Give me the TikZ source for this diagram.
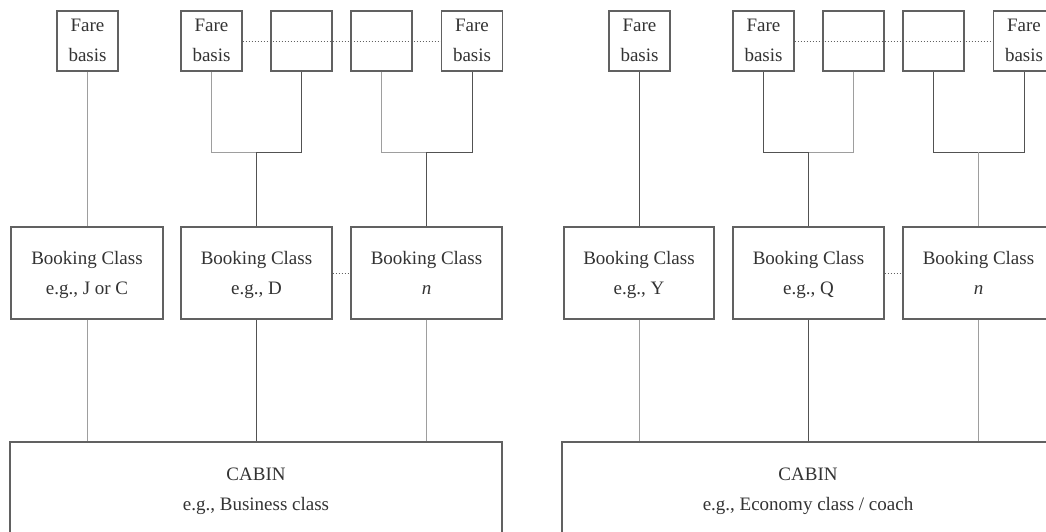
\documentclass[tikz,border=0pt]{standalone}
\usepackage{fontspec}
\setmainfont{Liberation Serif}
\tikzset{
  box/.style={draw=black!62, line width=1.1pt, inner sep=0pt, align=center, text=black!80, font=\fontsize{19}{30}\selectfont},
  farebox/.style={box, minimum width=61pt, minimum height=60pt},
  bookbox/.style={box, minimum width=151pt, minimum height=92pt},
  cabinbox/.style={box, minimum width=492pt, minimum height=94pt},
  dk/.style={draw=black!68, line width=1pt},
  lt/.style={draw=black!38, line width=1pt},
  dots/.style={draw=black!62, line width=0.85pt, dash pattern=on 1.6pt off 1.4pt},
}
\begin{document}
\begin{tikzpicture}[x=1pt,y=-1pt]
\useasboundingbox (0,0) rectangle (1046,532);
\clip (0,0) rectangle (1046,532);
\fill[white] (0,0) rectangle (1046,532);

% ---------- left panel ----------
\node[farebox] (Lf1) at (87.5,41) {\strut Fare\\basis\strut};
\node[farebox] (Lf2) at (211.5,41) {\strut Fare\\basis\strut};
\node[farebox] (Lf3) at (301.5,41) {};
\node[farebox] (Lf4) at (381.5,41) {};
\node[farebox] (Lf5) at (472,41) {\strut Fare\\basis\strut};

\node[bookbox, minimum width=152pt] (Lb1) at (87,273) {\strut Booking Class\\e.g., J or C\strut};
\node[bookbox] (Lb2) at (256.5,273) {\strut Booking Class\\e.g., D\strut};
\node[bookbox] (Lb3) at (426.5,273) {\strut Booking Class\\\textit{n}\strut};

\node[cabinbox] (Lc) at (256,489) {\strut CABIN\\e.g., Business class\strut};

\coordinate (Lj1) at (256.5,152);
\coordinate (Lj2) at (426.75,152);

\draw[lt] (Lf1.south) -- (Lf1.south |- Lb1.north);
\draw[lt] (Lf2.south) |- (Lj1);
\draw[dk] (Lf3.south) |- (Lj1);
\draw[dk] (Lj1) -- (Lj1 |- Lb2.north);
\draw[lt] (Lf4.south) |- (Lj2);
\draw[dk] (Lf5.south) |- (Lj2);
\draw[dk] (Lj2) -- (Lj2 |- Lb3.north);

\draw[lt] (Lb1.south) -- (Lb1.south |- Lc.north);
\draw[dk] (Lb2.south) -- (Lb2.south |- Lc.north);
\draw[lt] (Lb3.south) -- (Lb3.south |- Lc.north);

\draw[dots] (Lf2.east) -- (Lf5.west);
\draw[dots] (Lb2.east) -- (Lb3.west);

% ---------- right panel ----------
\node[farebox] (Rf1) at (639.5,41) {\strut Fare\\basis\strut};
\node[farebox] (Rf2) at (763.5,41) {\strut Fare\\basis\strut};
\node[farebox] (Rf3) at (853.5,41) {};
\node[farebox] (Rf4) at (933.5,41) {};
\node[farebox] (Rf5) at (1024,41) {\strut Fare\\basis\strut};

\node[bookbox, minimum width=150pt] (Rb1) at (639,273) {\strut Booking Class\\e.g., Y\strut};
\node[bookbox] (Rb2) at (808.5,273) {\strut Booking Class\\e.g., Q\strut};
\node[bookbox] (Rb3) at (978.5,273) {\strut Booking Class\\\textit{n}\strut};

\node[cabinbox] (Rc) at (808,489) {\strut CABIN\\e.g., Economy class / coach\strut};

\coordinate (Rj1) at (808.5,152);
\coordinate (Rj2) at (978.75,152);

\draw[dk] (Rf1.south) -- (Rf1.south |- Rb1.north);
\draw[dk] (Rf2.south) |- (Rj1);
\draw[lt] (Rf3.south) |- (Rj1);
\draw[dk] (Rj1) -- (Rj1 |- Rb2.north);
\draw[dk] (Rf4.south) |- (Rj2);
\draw[dk] (Rf5.south) |- (Rj2);
\draw[lt] (Rj2) -- (Rj2 |- Rb3.north);

\draw[lt] (Rb1.south) -- (Rb1.south |- Rc.north);
\draw[dk] (Rb2.south) -- (Rb2.south |- Rc.north);
\draw[lt] (Rb3.south) -- (Rb3.south |- Rc.north);

\draw[dots] (Rf2.east) -- (Rf5.west);
\draw[dots] (Rb2.east) -- (Rb3.west);
\end{tikzpicture}
\end{document}
